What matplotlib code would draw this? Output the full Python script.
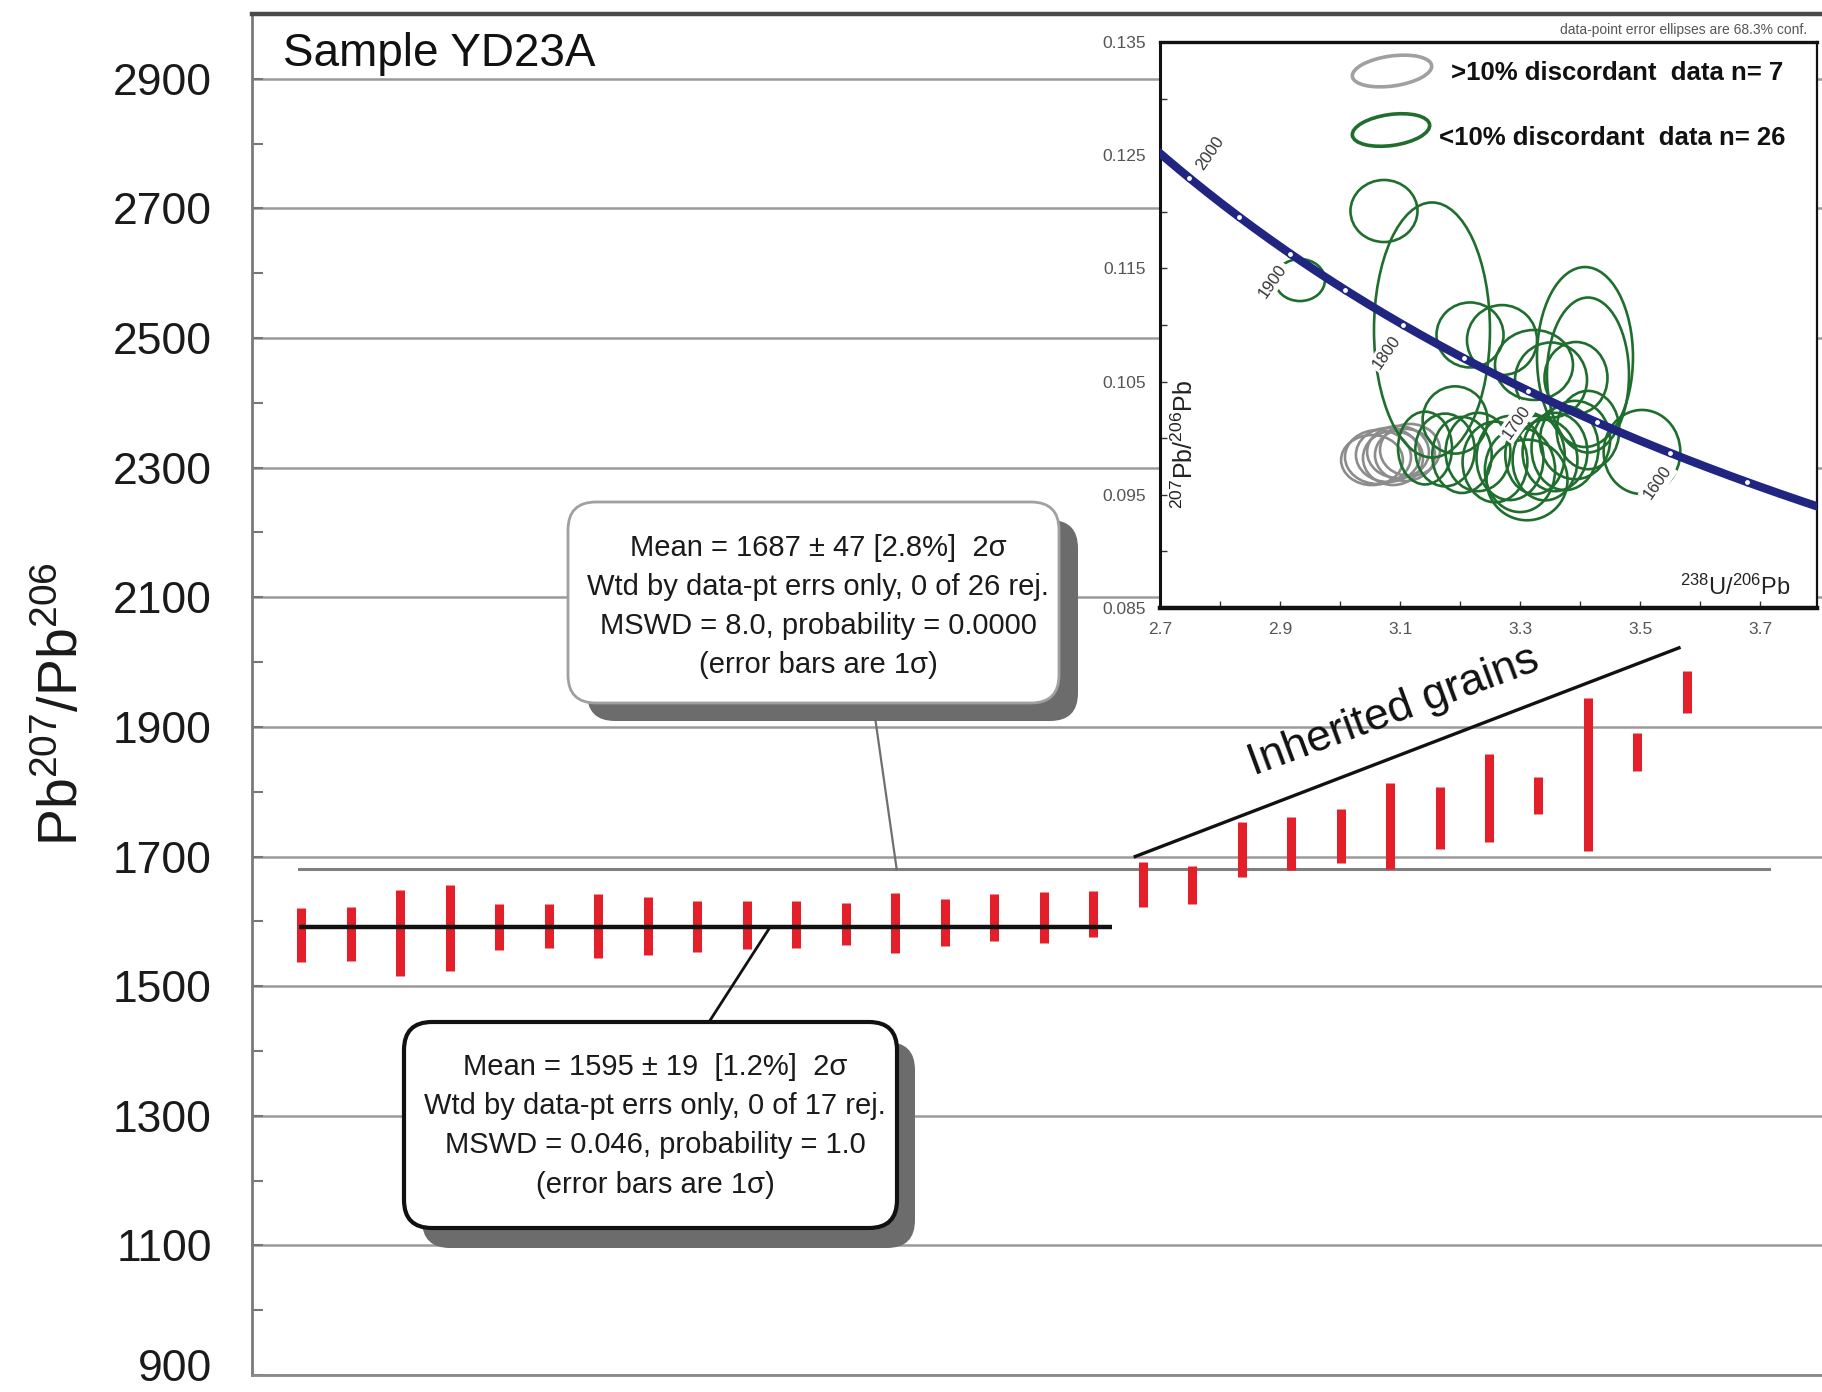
import numpy as np
import matplotlib
matplotlib.use('Agg')
import matplotlib.pyplot as plt
import matplotlib.transforms as mtransforms
from matplotlib.patches import Ellipse, FancyBboxPatch

plt.rcParams['font.family'] = ['Liberation Sans', 'DejaVu Sans']
plt.rcParams['mathtext.fontset'] = 'custom'
plt.rcParams['mathtext.rm'] = 'Liberation Sans'
plt.rcParams['mathtext.it'] = 'Liberation Sans:italic'
plt.rcParams['mathtext.bf'] = 'Liberation Sans:bold'
plt.rcParams['mathtext.default'] = 'regular'

# ---------------- data: weighted-mean plot ----------------
grain_index = list(range(1, 30))
ages = [1579, 1580, 1582, 1589.5, 1591, 1592.5, 1592.5, 1593, 1592, 1594, 1595, 1596,
        1597, 1598, 1605.5, 1606.5, 1611.5,
        1656.4, 1656.3, 1711.5, 1720.5, 1732, 1747, 1759.5, 1790, 1794, 1827, 1861, 1954]
errs_1s = [41, 41.5, 67, 66.5, 35.5, 34, 49.5, 45, 39, 37, 36, 33, 46, 36, 36.5, 39.5, 35.5,
           34.4, 29.3, 42.5, 41, 42, 66, 48.5, 68, 29, 118, 29, 33]
young_mean_line = 1591          # drawn level of 17-grain mean
young_mean_span = [0.95, 17.38]
all_mean_line = 1680            # drawn level of 26-grain mean
all_mean_span = [0.95, 30.66]
inherited_line_x = [17.85, 28.84]
inherited_line_y = [1700, 2022]
main_yticks = [900, 1100, 1300, 1500, 1700, 1900, 2100, 2300, 2500, 2700, 2900]
main_yticklabels = ['900', '1100', '1300', '1500', '1700', '1900', '2100', '2300', '2500', '2700', '2900']
main_minor = [1000, 1200, 1400, 1600, 1800, 2000, 2200, 2400, 2600, 2800]

box1_lines = ['Mean = 1687 \u00b1 47 [2.8%]  2\u03c3',
              'Wtd by data-pt errs only, 0 of 26 rej.',
              'MSWD = 8.0, probability = 0.0000',
              '(error bars are 1\u03c3)']
box2_lines = ['Mean = 1595 \u00b1 19  [1.2%]  2\u03c3',
              'Wtd by data-pt errs only, 0 of 17 rej.',
              'MSWD = 0.046, probability = 1.0',
              '(error bars are 1\u03c3)']

# ---------------- data: Tera-Wasserburg inset ----------------
gray_x = [3.0633, 3.08, 3.0967, 3.1167, 3.0533, 3.0883, 3.1083]
gray_y = [0.09834, 0.09852, 0.09878, 0.09896, 0.09807, 0.09825, 0.09852]
gray_w = [0.110, 0.107, 0.103, 0.100, 0.103, 0.100, 0.100]
gray_h = [0.00477, 0.00477, 0.00460, 0.00460, 0.00442, 0.00477, 0.00460]

green_x = [3.0733, 3.1533, 3.4083, 3.4133, 2.9333, 3.2167, 3.27, 3.3233, 3.3517, 3.3933,
           3.1417, 3.175, 3.2033, 3.23, 3.2583, 3.2833, 3.30, 3.325, 3.3417, 3.3583,
           3.375, 3.3917, 3.4133, 3.5033, 3.3117, 3.1917]
green_y = [0.12007, 0.10956, 0.10717, 0.10558, 0.11397, 0.10912, 0.10867, 0.10647, 0.10514, 0.10532,
           0.09913, 0.09896, 0.09852, 0.09878, 0.0979, 0.09825, 0.09719, 0.09852, 0.09807, 0.09878,
           0.09913, 0.09984, 0.10072, 0.09878, 0.09631, 0.10161]
green_w = [0.1117, 0.1933, 0.160, 0.1367, 0.0833, 0.1117, 0.1167, 0.130, 0.120, 0.105,
           0.090, 0.099, 0.099, 0.108, 0.108, 0.1116, 0.117, 0.099, 0.108, 0.108,
           0.1116, 0.117, 0.1044, 0.1278, 0.135, 0.108]
green_h = [0.00548, 0.02253, 0.0159, 0.01369, 0.00371, 0.00574, 0.00618, 0.00618, 0.00663, 0.00636,
           0.00643, 0.00643, 0.00672, 0.00692, 0.00712, 0.00743, 0.00743, 0.00692, 0.00712, 0.00692,
           0.00743, 0.00692, 0.00692, 0.00743, 0.00712, 0.00594]

marker_ages = [1550, 1600, 1650, 1700, 1750, 1800, 1850, 1900, 1950, 2000]
label_ages = [1600, 1700, 1800, 1900, 2000]
inset_xticks = [2.7, 2.9, 3.1, 3.3, 3.5, 3.7]
inset_xticklabels = ['2.7', '2.9', '3.1', '3.3', '3.5', '3.7']
inset_xminor = [2.8, 3.0, 3.2, 3.4, 3.6]
inset_yticks = [0.085, 0.095, 0.105, 0.115, 0.125, 0.135]
inset_yticklabels = ['0.085', '0.095', '0.105', '0.115', '0.125', '0.135']
inset_yminor = [0.09, 0.10, 0.11, 0.12, 0.13]

# decay constants (concordia reference curve)
LAM238 = 1.55125e-10
LAM235 = 9.8485e-10
U_RATIO = 137.88


def concordia(age_ma):
    t = np.asarray(age_ma, dtype=float) * 1e6
    e8 = np.exp(LAM238 * t) - 1
    e5 = np.exp(LAM235 * t) - 1
    return 1.0 / e8, e5 / e8 / U_RATIO


# ---------------- figure ----------------
W, H = 1822, 1392
fig = plt.figure(figsize=(W / 100, H / 100), dpi=100)
fig.patch.set_facecolor('white')

ax = fig.add_axes([252 / W, (H - 1375) / H, 1 - 252 / W, (1375 - 14) / H])
ax.set_xlim(0, 31.73)
ax.set_ylim(900, 3000)
ax.set_yticks(main_yticks, labels=main_yticklabels)
ax.set_yticks(main_minor, minor=True)
ax.set_xticks([])
ax.tick_params(axis='y', which='major', direction='in', length=8, width=1.5, color='#777777',
               labelsize=32, pad=29, labelcolor='#1a1a1a')
ax.tick_params(axis='y', which='minor', direction='in', length=8, width=1.5, color='#777777')
ax.grid(axis='y', which='major', color='#9a9a9a', lw=1.8)
ax.set_axisbelow(True)
ax.spines['right'].set_visible(False)
ax.spines['left'].set_color('#7a7a7a')
ax.spines['left'].set_linewidth(2)
ax.spines['bottom'].set_color('#8a8a8a')
ax.spines['bottom'].set_linewidth(2)
ax.spines['top'].set_color('#4a4a4a')
ax.spines['top'].set_linewidth(3.2)
# keep the lowest tick label inside the picture
lowest = ax.get_yticklabels()[0]
lowest.set_transform(lowest.get_transform() +
                     mtransforms.ScaledTranslation(0, 7 / 72, fig.dpi_scale_trans))

ag = np.array(ages)
er = np.array(errs_1s)
ax.vlines(grain_index, ag - er, ag + er, color='#e3202a', lw=6.5, zorder=3,
          capstyle='butt')
ax.plot(all_mean_span, [all_mean_line] * 2, color='#7f7f7f', lw=2.2, zorder=2)
ax.plot(young_mean_span, [young_mean_line] * 2, color='#111111', lw=3.2, zorder=4,
        solid_capstyle='butt')
ax.plot(inherited_line_x, inherited_line_y, color='#111111', lw=2.4, zorder=4)
ax.text(23.08, 1923, 'Inherited grains', fontsize=32, rotation=20.3,
        ha='center', va='center', rotation_mode='anchor', color='#111111')

fig.text(64 / W, 1 - 704 / H, r'Pb$^{207}$/Pb$^{206}$', rotation=90, fontsize=40,
         ha='center', va='center', color='#1a1a1a')

# ---------------- inset ----------------
axi = fig.add_axes([1160 / W, (H - 608) / H, (1817 - 1160) / W, (608 - 42) / H], zorder=3)
axi.set_facecolor('white')
axi.set_xlim(2.7, 3.795)
axi.set_ylim(0.085, 0.135)
axi.set_xticks(inset_xticks, labels=inset_xticklabels)
axi.set_xticks(inset_xminor, minor=True)
axi.set_yticks(inset_yticks, labels=inset_yticklabels)
axi.set_yticks(inset_yminor, minor=True)
axi.tick_params(which='both', direction='in', length=5, width=1, color='#333333',
                labelsize=12.5, labelcolor='#555555')
axi.tick_params(axis='x', pad=10)
axi.tick_params(axis='y', pad=10)
for s, lw in [('left', 2.2), ('top', 2.4), ('bottom', 3.2), ('right', 1.6)]:
    axi.spines[s].set_linewidth(lw)
    axi.spines[s].set_color('#111111')

for x, y, w, h in zip(gray_x, gray_y, gray_w, gray_h):
    axi.add_patch(Ellipse((x, y), w, h, fill=False, ec='#8c8c8c', lw=1.9, zorder=2))
for x, y, w, h in zip(green_x, green_y, green_w, green_h):
    axi.add_patch(Ellipse((x, y), w, h, fill=False, ec='#1f6e2e', lw=1.9, zorder=2))

cx, cy = concordia(np.arange(1400, 2201, 5))
axi.plot(cx, cy, color='#1f2580', lw=6, zorder=4, solid_capstyle='butt')
mx, my = concordia(marker_ages)
axi.plot(mx, my, 'o', ms=4.5, mfc='white', mec='#1f2580', mew=1, zorder=5)
lx, ly = concordia(label_ages)
label_offsets = {1600: (-12, -30), 1700: (-12, -31), 1800: (-16, -28), 1900: (-18, -27), 2000: (21, 25)}
for a, x, y in zip(label_ages, lx, ly):
    dx, dy = label_offsets[a]
    axi.annotate(str(a), (x, y), xytext=(dx, dy), textcoords='offset pixels',
                 fontsize=12, rotation=55, ha='center', va='center', color='#333333',
                 zorder=6, bbox=dict(boxstyle='square,pad=0.15', fc='white', ec='none'))

axi.text(0.038, 0.29, r'$^{207}$Pb/$^{206}$Pb', transform=axi.transAxes, rotation=90,
         fontsize=18, ha='center', va='center', color='#222222')
axi.text(0.960, 0.037, r'$^{238}$U/$^{206}$Pb', transform=axi.transAxes,
         fontsize=17, ha='right', va='center', color='#222222')

# ---------------- overlay (pixel coordinates, y downward) ----------------
ov = fig.add_axes([0, 0, 1, 1], zorder=10)
ov.set_xlim(0, W)
ov.set_ylim(H, 0)
ov.axis('off')
ov.patch.set_alpha(0)


def to_px(a, x, y):
    dx, dy = a.transData.transform((x, y))
    return dx, H - dy


ov.text(283, 66, 'Sample YD23A', fontsize=33, ha='left', va='baseline', color='#111111')
ov.text(1807, 30, 'data-point error ellipses are 68.3% conf.', fontsize=10, ha='right',
        va='center', color='#555555')

# legend in inset
ov.add_patch(Ellipse((1392, 71), 80, 30, angle=-8, fill=False, ec='#a0a0a0', lw=2.6))
ov.add_patch(Ellipse((1391, 130), 78, 31, angle=-8, fill=False, ec='#1f6e2e', lw=2.6))
ov.text(1451, 73, '>10% discordant  data n= 7', fontsize=18.5, fontweight='bold',
        ha='left', va='center', color='#111111')
ov.text(1439, 138, '<10% discordant  data n= 26', fontsize=18.5, fontweight='bold',
        ha='left', va='center', color='#111111')


def callout(x0, y0, x1, y1, shadow, ec, elw, lines, ly, cxt):
    sh = FancyBboxPatch((x0 + shadow[0], y0 + shadow[1]), x1 - x0, y1 - y0,
                        boxstyle='round,pad=0,rounding_size=28', fc='#6c6c6c', ec='none', zorder=2)
    bx = FancyBboxPatch((x0, y0), x1 - x0, y1 - y0,
                        boxstyle='round,pad=0,rounding_size=28', fc='white', ec=ec, lw=elw, zorder=3)
    ov.add_patch(sh)
    ov.add_patch(bx)
    for t, yy in zip(lines, ly):
        ov.text(cxt, yy, t, fontsize=21, ha='center', va='center', color='#1a1a1a', zorder=4)


# connectors
p = to_px(ax, 13.03, all_mean_line)
ov.plot([873, p[0]], [703, p[1]], color='#6f6f6f', lw=1.6, zorder=1)
p = to_px(ax, 10.47, young_mean_line)
ov.plot([709, p[0]], [1022, p[1]], color='#111111', lw=2, zorder=1)

callout(568, 502, 1059, 703, (19, 18), '#a0a0a0', 2, box1_lines, [548, 587, 626, 665], 818)
callout(404, 1022, 897, 1228, (18, 20), '#111111', 3, box2_lines, [1067, 1106, 1145, 1185], 655)

fig.savefig('out.png', dpi=100, facecolor='white')
